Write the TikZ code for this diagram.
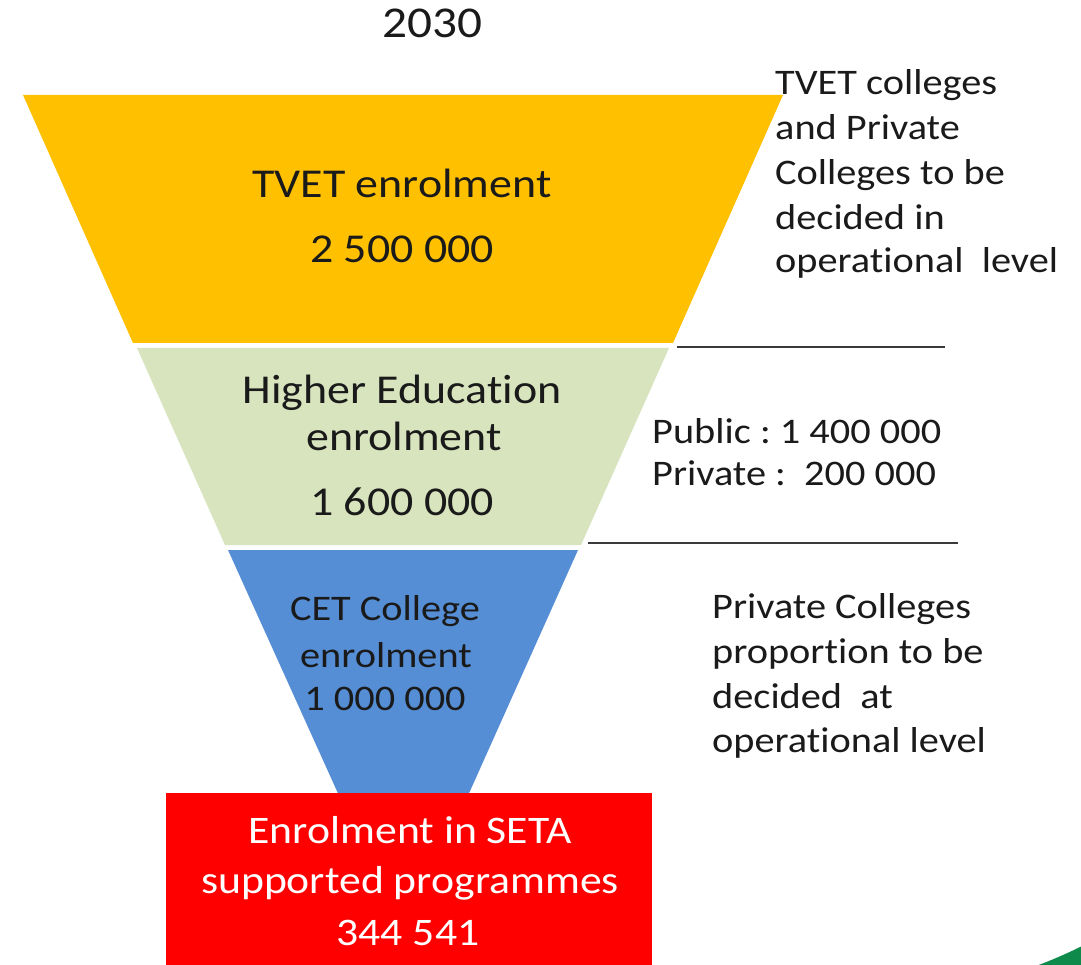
\documentclass[tikz,border=0pt]{standalone}
\usepackage{fontspec}
\setmainfont{Carlito}[FakeStretch=1.12,Ligatures={NoCommon,NoRare,NoContextual},Contextuals=NoAlternate]
\frenchspacing
\definecolor{tvetfill}{HTML}{FFC000}
\definecolor{hefill}{HTML}{D7E4BD}
\definecolor{cetfill}{HTML}{558ED5}
\definecolor{setafill}{HTML}{FF0000}
\definecolor{inktext}{HTML}{1A1A1A}
\definecolor{rulegray}{HTML}{3A3A3A}
\definecolor{swoosh}{HTML}{0E8A4A}
\begin{document}
\begin{tikzpicture}[x=1pt,y=-1pt,
  lbl/.style={inner sep=0pt,anchor=base,text=inktext},
  big/.style={lbl,font=\fontsize{41}{48}\selectfont},
  mid/.style={lbl,font=\fontsize{36}{44}\selectfont},
  side/.style={lbl,anchor=base west,font=\fontsize{36}{44}\selectfont},
  seta/.style={lbl,text=white,font=\fontsize{39}{48}\selectfont},
  divider/.style={draw=rulegray,line width=2.2pt}]
\useasboundingbox (0,0) rectangle (1081,965);
\fill[white] (0,0) rectangle (1081,965);

% funnel bands
\fill[tvetfill] (23,95) -- (783,95) -- (673,343) -- (133,343) -- cycle;
\fill[hefill] (137,348) -- (669,348) -- (581,545) -- (225,545) -- cycle;
\fill[cetfill] (228,550) -- (578,550) -- (466,800) -- (341,800) -- cycle;
% SETA box
\fill[setafill] (166,793) rectangle (652,970);

% corner swoosh
\fill[swoosh] (1036,966) .. controls (1052,960) and (1066,954) .. (1082,946) -- (1082,966) -- cycle;

% dividers on the right
\coordinate (d1a) at (677,347); \coordinate (d1b) at (945,347);
\coordinate (d2a) at (588,543); \coordinate (d2b) at (958,543);
\draw[divider] (d1a) -- (d1b);
\draw[divider] (d2a) -- (d2b);

% title
\node[lbl,font=\fontsize{44}{52}\selectfont] (year) at (432,38) {2030};

% band labels
\node[big] (tv1) at (402,198) {TVET enrolment};
\node[big] (tv2) at (402,263) {2 500 000};
\node[big] (he1) at (402,403) {Higher Educat\kern0pt ion};
\node[big] (he2) at (404,450) {enrolment};
\node[big] (he3) at (402,515) {1 600 000};
\node[mid] (ce1) at (385,620) {CET College};
\node[mid] (ce2) at (386,667) {enrolment};
\node[mid] (ce3) at (385,710) {1 000 000};
\node[seta] (se1) at (410,843) {Enrolment in SETA};
\node[seta] (se2) at (410,893) {supported programmes};
\node[seta] (se3) at (408,945) {344 541};

% notes on the right
\foreach \t/\y [count=\i] in {{TVET colleges}/95,{and Private}/140,{Colleges to be}/185,{decided in}/230,{operat\kern0pt ional\ \ level}/273}
  \node[side] (tn\i) at (775,\y) {\t};
\node[side] (pub) at (652,443) {Public : 1 400 000};
\node[side] (pri) at (652,485) {Private :\ \ 200 000};
\foreach \t/\y [count=\i] in {{Private Colleges}/618,{proport\kern0pt ion to be}/663,{decided\ \ at}/708,{operat\kern0pt ional level}/752}
  \node[side] (pn\i) at (712,\y) {\t};
\end{tikzpicture}
\end{document}
